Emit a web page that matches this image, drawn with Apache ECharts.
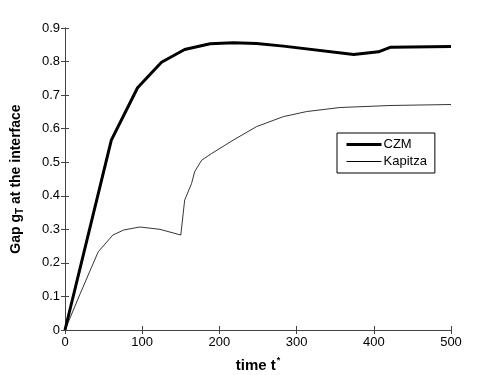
<!DOCTYPE html>
<html>
<head>
<meta charset="utf-8">
<script src="https://cdn.jsdelivr.net/npm/echarts@6/dist/echarts.min.js"></script>
<style>
  html, body { margin: 0; padding: 0; background: #fff; }
  #chart { width: 498px; height: 375px; }
</style>
</head>
<body>
<div id="chart"></div>
<script>
// CZM (thick line)
const czmTime = [0, 60, 94, 125, 155, 188, 218, 248, 283, 374, 406, 422, 500]
const czmGap = [0, 0.566, 0.722, 0.798, 0.836, 0.853, 0.856, 0.854, 0.846, 0.821, 0.829, 0.843, 0.845]

// Kapitza (thin line)
const kapTime = [0, 20, 43, 62, 76, 97, 123, 150, 155, 164, 168, 177, 190, 218, 248, 283, 313, 356, 421, 500]
const kapGap = [0, 0.11, 0.233, 0.283, 0.298, 0.307, 0.300, 0.283, 0.387, 0.437, 0.472, 0.506, 0.526, 0.566, 0.606, 0.636, 0.651, 0.663, 0.669, 0.672]

const xTicks = [0, 100, 200, 300, 400, 500]
const yTicks = [0, 0.1, 0.2, 0.3, 0.4, 0.5, 0.6, 0.7, 0.8, 0.9]

const toPairs = (xs, ys) => xs.map((x, i) => [x, ys[i]])

const font = 'Liberation Sans, Arial, Helvetica, sans-serif'
const axisColor = '#444'

const chart = echarts.init(document.getElementById('chart'))

const frameAxis = {
  axisLine: { show: true, lineStyle: { color: axisColor, width: 1 } },
  axisTick: { show: true, inside: true, length: 4, lineStyle: { color: axisColor } },
  splitLine: { show: false },
}

chart.setOption({
  animation: false,
  textStyle: { fontFamily: font },
  grid: { left: 65, right: 47, top: 28, bottom: 45, outerBoundsMode: 'none' },
  legend: {
    data: [
      { name: 'CZM', lineStyle: { width: 3 } },
      { name: 'Kapitza', lineStyle: { width: 1 } }
    ],
    orient: 'vertical',
    left: 337,
    top: 133,
    padding: [5, 8, 5, 8],
    itemWidth: 35,
    itemHeight: 14,
    itemGap: 4,
    backgroundColor: '#fff',
    borderColor: '#000',
    borderWidth: 1,
    borderRadius: 0,
    itemStyle: { opacity: 0 },
    textStyle: { color: '#000', fontSize: 13, fontFamily: font, padding: [0, 0, 0, -3] },
  },
  xAxis: [
    {
      type: 'value',
      min: xTicks[0],
      max: xTicks[xTicks.length - 1],
      interval: 100,
      ...frameAxis,
      axisLabel: { color: '#000', fontSize: 13, margin: 6 },
      name: 'time t{sup|*}',
      nameLocation: 'middle',
      nameGap: 26,
      nameTextStyle: {
        color: '#000', fontSize: 15, fontWeight: 'bold',
        rich: { sup: { fontSize: 9, fontWeight: 'bold', padding: [0, 0, 11, 1] } }
      },
    },
    {
      type: 'value',
      position: 'top',
      min: xTicks[0],
      max: xTicks[xTicks.length - 1],
      interval: 100,
      ...frameAxis,
      axisLabel: { show: false },
    }
  ],
  yAxis: [
    {
      type: 'value',
      min: yTicks[0],
      max: yTicks[yTicks.length - 1],
      interval: 0.1,
      ...frameAxis,
      axisLabel: { color: '#000', fontSize: 13, margin: 5 },
      name: '{n|Gap g}{sub|T}{n| at the interface}',
      nameLocation: 'middle',
      nameRotate: 90,
      nameGap: 34,
      nameTextStyle: {
        color: '#000', fontSize: 14, fontWeight: 'bold',
        rich: {
          n: { fontSize: 14, fontWeight: 'bold', padding: [0, 0, 8, 0] },
          sub: { fontSize: 10, fontWeight: 'bold' }
        }
      },
    },
    {
      type: 'value',
      position: 'right',
      min: yTicks[0],
      max: yTicks[yTicks.length - 1],
      interval: 0.1,
      ...frameAxis,
      axisLabel: { show: false },
    }
  ],
  series: [
    {
      name: 'CZM',
      type: 'line',
      data: toPairs(czmTime, czmGap),
      symbol: 'none',
      lineStyle: { color: '#000', width: 3 },
      itemStyle: { color: '#000' },
    },
    {
      name: 'Kapitza',
      type: 'line',
      data: toPairs(kapTime, kapGap),
      symbol: 'none',
      lineStyle: { color: '#000', width: 0.8 },
      itemStyle: { color: '#000' },
    }
  ]
})
</script>
</body>
</html>
